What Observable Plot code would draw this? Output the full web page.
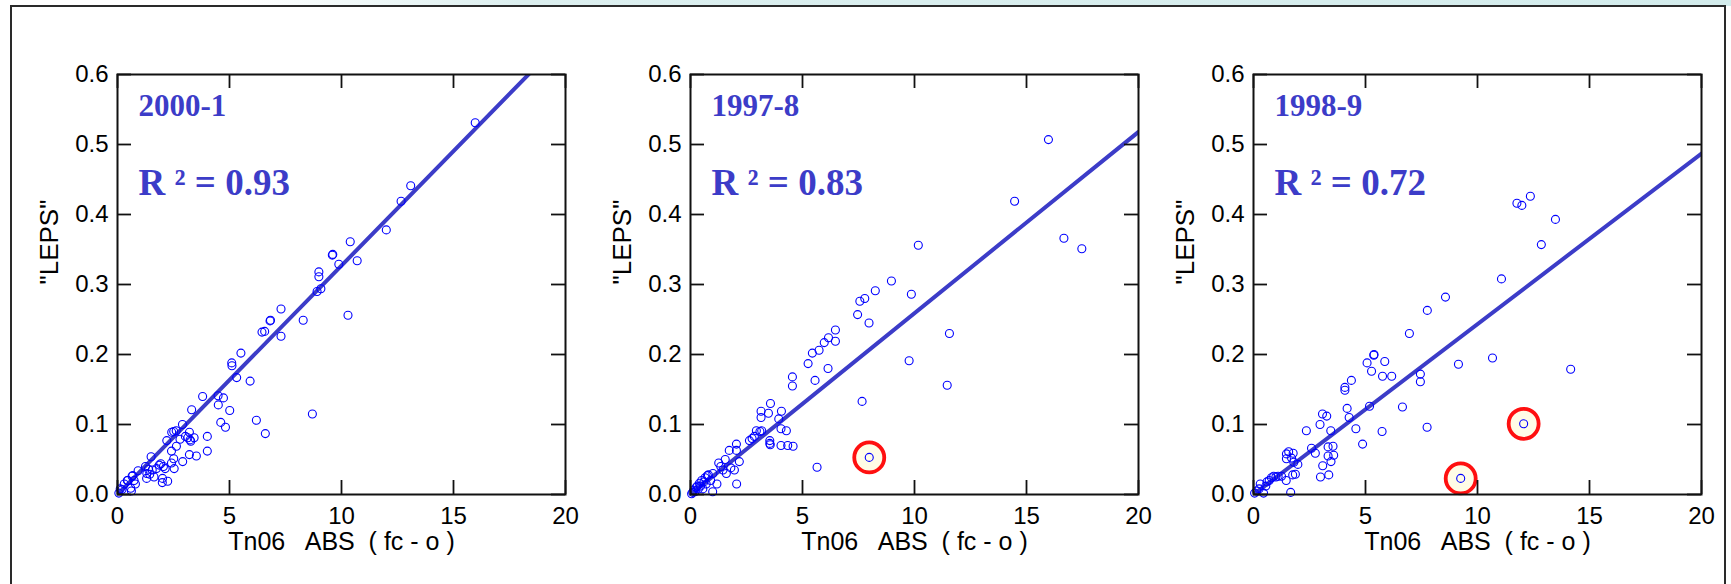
<!DOCTYPE html>
<html><head><meta charset="utf-8">
<script src="https://cdn.jsdelivr.net/npm/d3@7"></script>
<script src="https://cdn.jsdelivr.net/npm/@observablehq/plot@0.6"></script>
<style>
html,body{margin:0;padding:0;background:#fff;}
#wrap{position:relative;width:1731px;height:584px;overflow:hidden;background:#fff;}
#strip{position:absolute;left:0;top:0;width:1731px;height:6px;background:linear-gradient(90deg,#fff 0%,#fff 14%,#dcefef 30%,#d3ecec 100%);}
#box{position:absolute;left:10px;top:5px;width:1716px;height:640px;border:2px solid #2a2a2a;box-sizing:border-box;}
.panel{position:absolute;top:0;width:600px;height:584px;}
</style></head><body>
<div id="wrap"><div id="strip"></div><div id="box"></div></div>
<script>
const seasons = ["2000-1", "1997-8", "1998-9"];
const r2 = ["0.93", "0.83", "0.72"];
const slopes = [0.0327, 0.0259, 0.02435];
const xTicks = [0, 5, 10, 15, 20];
const yTicks = [0, 0.1, 0.2, 0.3, 0.4, 0.5, 0.6];
const xLabel = "Tn06   ABS  ( fc - o )";
const yLabel = '"LEPS"';

const pts2000 = [[0.06,0.002],[0.12,0.008],[0.2,0.007],[0.3,0.015],[0.44,0.02],[0.46,0.02],[0.59,0.009],[0.62,0.005],[0.65,0.026],[0.68,0.027],[0.74,0.02],[0.8,0.015],[0.92,0.034],[1.25,0.04],[1.3,0.023],[1.31,0.03],[1.38,0.036],[1.44,0.029],[1.5,0.054],[1.55,0.035],[1.63,0.025],[1.74,0.037],[1.86,0.042],[1.93,0.044],[2.0,0.017],[2.01,0.023],[2.05,0.04],[2.13,0.037],[2.2,0.077],[2.24,0.019],[2.41,0.062],[2.41,0.045],[2.42,0.089],[2.51,0.051],[2.53,0.037],[2.51,0.09],[2.62,0.091],[2.63,0.069],[2.79,0.079],[2.9,0.1],[2.91,0.047],[3.03,0.083],[3.14,0.081],[3.21,0.057],[3.21,0.089],[3.24,0.078],[3.27,0.076],[3.31,0.121],[3.42,0.081],[3.52,0.055],[3.8,0.14],[4.01,0.083],[4.01,0.062],[4.49,0.141],[4.5,0.128],[4.61,0.103],[4.73,0.138],[4.82,0.096],[5.01,0.12],[5.1,0.188],[5.11,0.184],[5.32,0.167],[5.51,0.202],[5.92,0.162],[6.2,0.106],[6.45,0.232],[6.57,0.233],[6.6,0.087],[6.81,0.248],[6.83,0.249],[7.3,0.265],[7.3,0.226],[8.29,0.249],[8.7,0.115],[8.91,0.29],[8.99,0.318],[8.99,0.311],[9.08,0.294],[9.59,0.342],[9.61,0.343],[9.88,0.329],[10.29,0.256],[10.39,0.361],[10.7,0.334],[12.0,0.378],[12.66,0.419],[13.09,0.441],[15.97,0.531]];

const pts1997 = [[0.05,0.001],[0.1,0.003],[0.15,0.006],[0.2,0.004],[0.25,0.01],[0.3,0.012],[0.35,0.008],[0.4,0.016],[0.45,0.012],[0.5,0.02],[0.55,0.008],[0.6,0.018],[0.65,0.024],[0.7,0.015],[0.75,0.027],[0.8,0.028],[0.9,0.02],[0.99,0.004],[1.0,0.03],[1.18,0.015],[1.26,0.045],[1.35,0.04],[1.45,0.035],[1.55,0.05],[1.6,0.03],[1.73,0.063],[1.8,0.038],[1.96,0.035],[2.05,0.072],[2.05,0.063],[2.06,0.015],[2.18,0.047],[2.63,0.077],[2.75,0.08],[2.85,0.083],[2.94,0.091],[3.1,0.09],[3.18,0.091],[3.15,0.119],[3.15,0.11],[3.48,0.116],[3.54,0.077],[3.54,0.073],[3.56,0.071],[3.57,0.13],[3.94,0.108],[4.04,0.094],[4.04,0.07],[4.06,0.119],[4.28,0.091],[4.34,0.07],[4.55,0.168],[4.55,0.155],[4.58,0.069],[5.25,0.187],[5.44,0.202],[5.56,0.163],[5.65,0.039],[5.74,0.206],[5.97,0.217],[6.14,0.18],[6.16,0.224],[6.47,0.235],[6.47,0.219],[7.46,0.257],[7.56,0.276],[7.66,0.133],[7.78,0.28],[7.97,0.245],[7.98,0.053],[8.25,0.291],[8.97,0.305],[9.76,0.191],[9.86,0.286],[10.17,0.356],[11.46,0.156],[11.56,0.23],[14.47,0.419],[15.98,0.507],[16.67,0.366],[17.47,0.351]];

const pts1998 = [[0.05,0.002],[0.15,0.005],[0.25,0.008],[0.3,0.015],[0.45,0.002],[0.55,0.012],[0.6,0.018],[0.7,0.02],[0.8,0.024],[0.9,0.026],[1.0,0.025],[1.1,0.026],[1.25,0.026],[1.46,0.02],[1.47,0.058],[1.47,0.051],[1.57,0.061],[1.66,0.003],[1.7,0.052],[1.75,0.028],[1.77,0.059],[1.8,0.046],[1.87,0.029],[1.98,0.043],[2.36,0.091],[2.59,0.066],[2.76,0.059],[2.97,0.1],[2.99,0.025],[3.08,0.115],[3.09,0.041],[3.27,0.112],[3.33,0.068],[3.33,0.055],[3.36,0.028],[3.45,0.091],[3.46,0.047],[3.55,0.069],[3.58,0.056],[4.08,0.153],[4.08,0.149],[4.18,0.123],[4.27,0.11],[4.37,0.163],[4.57,0.094],[4.87,0.072],[5.07,0.188],[5.18,0.126],[5.27,0.176],[5.37,0.199],[5.38,0.2],[5.74,0.09],[5.76,0.169],[5.86,0.19],[6.17,0.169],[6.65,0.125],[6.96,0.23],[7.45,0.172],[7.45,0.161],[7.75,0.096],[7.76,0.263],[8.57,0.282],[9.15,0.186],[9.25,0.023],[10.67,0.195],[11.07,0.308],[11.76,0.416],[11.98,0.413],[12.06,0.101],[12.36,0.426],[12.85,0.357],[13.48,0.393],[14.16,0.179]];

const points = [pts2000, pts1997, pts1998];
const circled = [[], [[7.98, 0.053]], [[9.25, 0.023], [12.06, 0.101]]];
const panelLeft = [0, 573, 1136];

const accent = "#3c3cc8";
const ink = "#111111";
const wrap = document.getElementById("wrap");
const W = 600, H = 584, ML = 117, MR = 35, MT = 74, MB = 90;
const FW = W - ML - MR, FH = H - MT - MB;
const TL = 14; // inward tick length

for (let i = 0; i < 3; i++) {
  const fit = [[0, 0], [20, 20 * slopes[i]]];
  const chart = Plot.plot({
    width: W, height: H,
    marginLeft: ML, marginRight: MR, marginTop: MT, marginBottom: MB,
    x: {domain: [0, 20]},
    y: {domain: [0, 0.6]},
    style: {fontFamily: "'Liberation Sans', Arial, sans-serif", fontSize: "24px", color: "#000", background: "transparent", overflow: "visible"},
    marks: [
      Plot.dot(circled[i], {x: d => d[0], y: d => d[1], r: 15, stroke: "#ff1010", strokeWidth: 3.8, fill: "#fffce6"}),
      Plot.line(fit, {x: d => d[0], y: d => d[1], stroke: accent, strokeWidth: 4, clip: true}),
      Plot.dot(points[i], {x: d => d[0], y: d => d[1], r: 4, stroke: "#0000ff", strokeWidth: 1.1, fill: "none"}),
      Plot.tickX(xTicks, {x: d => d, insetTop: FH - TL, stroke: ink, strokeWidth: 1.8}),
      Plot.tickX(xTicks, {x: d => d, insetBottom: FH - TL, stroke: ink, strokeWidth: 1.8}),
      Plot.tickY(yTicks, {y: d => d, insetRight: FW - TL, stroke: ink, strokeWidth: 1.8}),
      Plot.tickY(yTicks, {y: d => d, insetLeft: FW - TL, stroke: ink, strokeWidth: 1.8}),
      Plot.frame({stroke: ink, strokeWidth: 2}),
      Plot.axisX(xTicks, {anchor: "bottom", tickSize: 0, tickPadding: 12, label: null}),
      Plot.axisY(yTicks, {anchor: "left", tickSize: 0, tickPadding: 9, tickFormat: d3.format(".1f"), label: null}),
      Plot.text([xLabel], {frameAnchor: "bottom", dy: 55, fontSize: 25, fill: "#000", lineAnchor: "bottom"}),
      Plot.text([yLabel], {frameAnchor: "left", dx: -68, rotate: -90, fontSize: 26, fill: "#000"}),
      Plot.text([seasons[i]], {frameAnchor: "top-left", dx: 21, dy: 41, textAnchor: "start", lineAnchor: "bottom", fontFamily: "'Liberation Serif', 'Times New Roman', serif", fontWeight: "bold", fontSize: 31, fill: accent}),
      Plot.text([`R \u00B2 = ${r2[i]}`], {frameAnchor: "top-left", dx: 21, dy: 120, textAnchor: "start", lineAnchor: "bottom", fontFamily: "'Liberation Serif', 'Times New Roman', serif", fontWeight: "bold", fontSize: 37, fill: accent})
    ]
  });
  chart.style.whiteSpace = "pre";
  const div = document.createElement("div");
  div.className = "panel";
  div.style.left = panelLeft[i] + "px";
  div.appendChild(chart);
  wrap.appendChild(div);
}
</script>
</body></html>
